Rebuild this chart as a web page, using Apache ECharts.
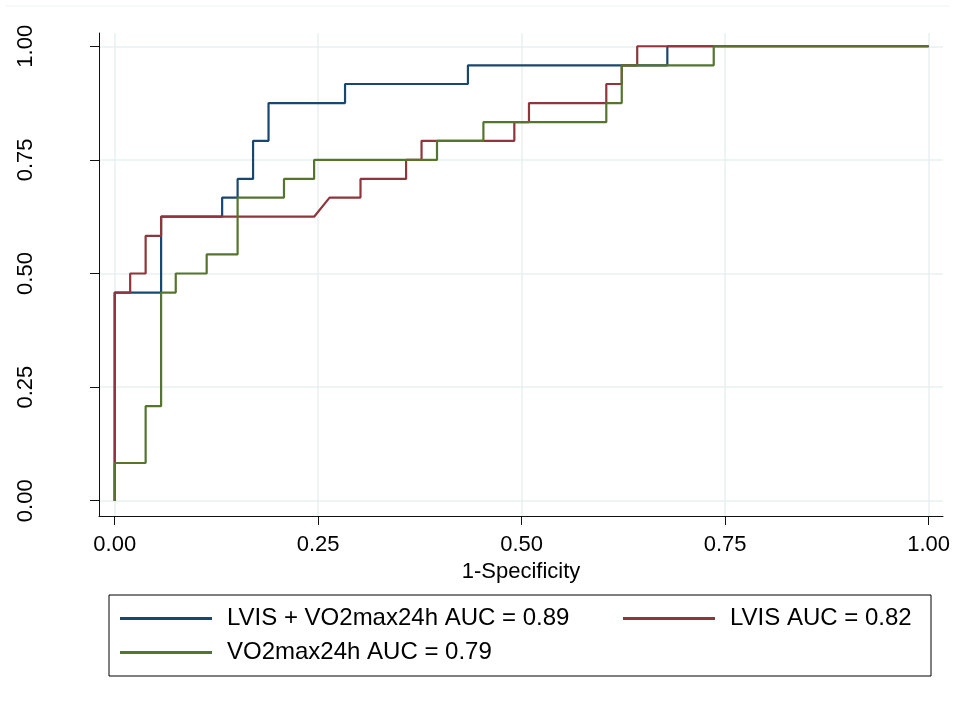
<!DOCTYPE html>
<html>
<head>
<meta charset="utf-8">
<script src="https://cdn.jsdelivr.net/npm/echarts@6/dist/echarts.min.js"></script>
<style>
    html, body { margin: 0; padding: 0; background: #fff; }
    #chart { width: 955px; height: 702px; }
</style>
</head>
<body>
<div id="chart"></div>
<script>
// ROC curves, 1-specificity (x) vs sensitivity (y)
var seriesNames = ['LVIS + VO2max24h AUC = 0.89', 'LVIS AUC = 0.82', 'VO2max24h AUC = 0.79'];
var seriesColors = ['#1a476f', '#90353b', '#55752f'];

var combFpr = [0, 0, 0.057, 0.057, 0.132, 0.132, 0.151, 0.151, 0.170, 0.170, 0.189, 0.189, 0.283, 0.283, 0.434, 0.434, 0.679, 0.679, 1];
var combTpr = [0, 0.458, 0.458, 0.625, 0.625, 0.667, 0.667, 0.708, 0.708, 0.792, 0.792, 0.875, 0.875, 0.917, 0.917, 0.958, 0.958, 1, 1];

var lvisFpr = [0, 0, 0.019, 0.019, 0.038, 0.038, 0.057, 0.057, 0.245, 0.264, 0.302, 0.302, 0.358, 0.358, 0.377, 0.377, 0.491, 0.491, 0.509, 0.509, 0.604, 0.604, 0.623, 0.623, 0.642, 0.642, 1];
var lvisTpr = [0, 0.458, 0.458, 0.5, 0.5, 0.583, 0.583, 0.625, 0.625, 0.667, 0.667, 0.708, 0.708, 0.75, 0.75, 0.792, 0.792, 0.833, 0.833, 0.875, 0.875, 0.917, 0.917, 0.958, 0.958, 1, 1];

var vo2Fpr = [0, 0, 0.038, 0.038, 0.057, 0.057, 0.075, 0.075, 0.113, 0.113, 0.151, 0.151, 0.208, 0.208, 0.245, 0.245, 0.396, 0.396, 0.453, 0.453, 0.604, 0.604, 0.623, 0.623, 0.736, 0.736, 1];
var vo2Tpr = [0, 0.083, 0.083, 0.208, 0.208, 0.458, 0.458, 0.5, 0.5, 0.542, 0.542, 0.667, 0.667, 0.708, 0.708, 0.75, 0.75, 0.792, 0.792, 0.833, 0.833, 0.875, 0.875, 0.958, 0.958, 1, 1];

var xTicks = [0, 0.25, 0.5, 0.75, 1];
var yTicks = [0, 0.25, 0.5, 0.75, 1];

function pairs(xs, ys) {
    return xs.map(function (x, i) { return [x, ys[i]]; });
}

var curves = [pairs(combFpr, combTpr), pairs(lvisFpr, lvisTpr), pairs(vo2Fpr, vo2Tpr)];

var font = 'Liberation Sans, Arial, sans-serif';
var gridColor = '#e8eff1';

var myChart = echarts.init(document.getElementById('chart'));
var option = {
    backgroundColor: '#fff',
    animation: false,
    graphic: [{
        type: 'line',
        shape: { x1: 5, y1: 6, x2: 950, y2: 6 },
        style: { stroke: '#eef3f5', lineWidth: 1 }
    }],
    grid: {
        left: 99,
        right: 12,
        top: 33,
        bottom: 186
    },
    xAxis: {
        type: 'value',
        min: -0.0193,
        max: 1.0177,
        name: '1-Specificity',
        nameLocation: 'middle',
        nameGap: 43,
        nameTextStyle: { color: '#000', fontSize: 22, fontFamily: font },
        axisLine: { show: true, onZero: false, lineStyle: { color: '#111', width: 1 } },
        axisTick: { show: true, length: 9, customValues: xTicks, lineStyle: { color: '#111' } },
        axisLabel: {
            customValues: xTicks,
            margin: 18,
            color: '#000',
            fontSize: 22,
            fontFamily: font,
            formatter: function (v) { return v.toFixed(2); }
        },
        splitLine: { show: true, lineStyle: { color: gridColor, width: 1.5 } }
    },
    yAxis: {
        type: 'value',
        min: -0.0336,
        max: 1.0292,
        axisLine: { show: true, onZero: false, lineStyle: { color: '#111', width: 1 } },
        axisTick: { show: true, length: 9, customValues: yTicks, lineStyle: { color: '#111' } },
        axisLabel: {
            customValues: yTicks,
            rotate: 90,
            margin: 62,
            color: '#000',
            fontSize: 22,
            fontFamily: font,
            formatter: function (v) { return v.toFixed(2); }
        },
        splitLine: { show: true, lineStyle: { color: gridColor, width: 1.5 } }
    },
    legend: {
        left: 109,
        top: 595,
        width: 815,
        orient: 'horizontal',
        padding: [11.5, 11, 11.5, 11],
        itemGap: 10,
        itemWidth: 92,
        itemHeight: 3,
        icon: 'rect',
        borderColor: '#000',
        borderWidth: 1,
        textStyle: {
            color: '#000',
            fontSize: 24,
            fontFamily: font,
            lineHeight: 23,
            padding: [0, 0, 0, 10]
        },
        data: [
            { name: seriesNames[0], textStyle: { width: 386 } },
            { name: seriesNames[1], textStyle: { width: 190 } },
            { name: seriesNames[2] }
        ]
    },
    series: seriesNames.map(function (name, i) {
        return {
            name: name,
            type: 'line',
            data: curves[i],
            showSymbol: false,
            symbol: 'none',
            color: seriesColors[i],
            lineStyle: { color: seriesColors[i], width: 2.2 },
            z: 2 + i
        };
    })
};
myChart.setOption(option);
</script>
</body>
</html>
